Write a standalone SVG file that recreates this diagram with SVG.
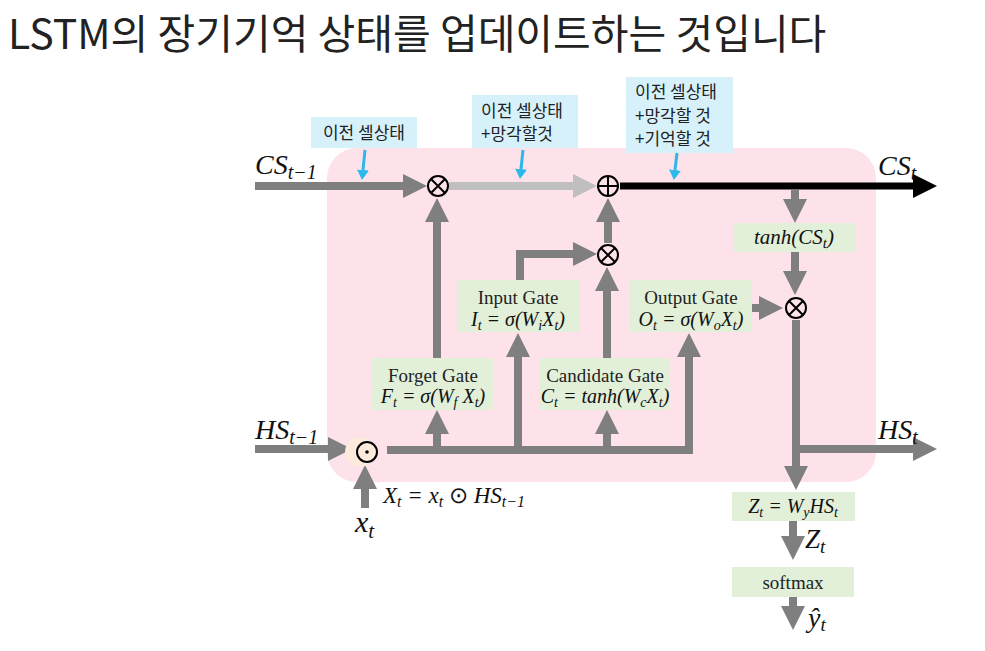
<svg xmlns="http://www.w3.org/2000/svg" width="985" height="651" viewBox="0 0 985 651">
<style>
.kr{font-family:"Noto Sans CJK KR","Noto Sans",sans-serif;fill:#222}
.m{font-family:"Liberation Serif",serif;font-style:italic;fill:#111}
.g{font-family:"Liberation Serif",serif;fill:#222}
.gbox{fill:#e2f0d9}
.bbox{fill:#d7f1fb}
.ln{fill:none;stroke:#7f7f7f;stroke-width:8}
.lt{fill:none;stroke:#bfbfbf;stroke-width:8}
.bk{fill:none;stroke:#000;stroke-width:7}
.cy{fill:none;stroke:#2bb8ea;stroke-width:3}
.op{fill:none;stroke:#000;stroke-width:2}
</style>
<defs>
<marker id="ag" markerUnits="userSpaceOnUse" markerWidth="24" markerHeight="24" viewBox="0 0 24 24" refX="0" refY="12" orient="auto"><path d="M0,0L24,12L0,24z" fill="#7f7f7f"/></marker>
<marker id="al" markerUnits="userSpaceOnUse" markerWidth="24" markerHeight="24" viewBox="0 0 24 24" refX="0" refY="12" orient="auto"><path d="M0,0L24,12L0,24z" fill="#bfbfbf"/></marker>
<marker id="ab" markerUnits="userSpaceOnUse" markerWidth="24" markerHeight="24" viewBox="0 0 24 24" refX="0" refY="12" orient="auto"><path d="M0,0L24,12L0,24z" fill="#000"/></marker>
<marker id="ac" markerUnits="userSpaceOnUse" markerWidth="10" markerHeight="12" viewBox="0 0 10 12" refX="0" refY="6" orient="auto"><path d="M0,0L10,6L0,12z" fill="#2bb8ea"/></marker>
</defs>
<rect width="985" height="651" fill="#fff"/>
<text id="title" class="kr" x="8" y="49" font-size="41">LSTM의 장기기억 상태를 업데이트하는 것입니다</text>

<g id="cell"><rect x="327" y="148" width="549" height="334" rx="30" fill="#fde3e9"/></g>

<g id="callouts">
<g id="c1"><rect class="bbox" x="311" y="117" width="106" height="31"/><text class="kr" x="364" y="139" font-size="17" text-anchor="middle">이전 셀상태</text></g>
<g id="c2"><rect class="bbox" x="472" y="95" width="106" height="53"/><text class="kr" x="481" y="117" font-size="17">이전 셀상태</text><text class="kr" x="481" y="140" font-size="17">+망각할것</text></g>
<g id="c3"><rect class="bbox" x="626" y="77" width="107" height="76"/><text class="kr" x="635" y="98" font-size="17">이전 셀상태</text><text class="kr" x="635" y="122" font-size="17">+망각할 것</text><text class="kr" x="635" y="145" font-size="17">+기억할 것</text></g>
</g>

<g id="connectors">
<path class="ln" d="M255,186H403" marker-end="url(#ag)"/>
<path class="lt" d="M449,186H573" marker-end="url(#al)"/>
<path class="bk" d="M620,186H913" marker-end="url(#ab)"/>
<path class="ln" d="M795,190V199" marker-end="url(#ag)"/>
<path class="ln" d="M795,252V271" marker-end="url(#ag)"/>
<path class="ln" d="M752,308H759" marker-end="url(#ag)"/>
<path class="ln" d="M796,320V466" marker-end="url(#ag)"/>
<path class="ln" d="M796,449H913" marker-end="url(#ag)"/>
<path class="ln" d="M793,521V536" marker-end="url(#ag)"/>
<path class="ln" d="M793,597V606" marker-end="url(#ag)"/>
<path class="ln" d="M437,358V222" marker-end="url(#ag)"/>
<path class="ln" d="M520,280V254H573" marker-end="url(#ag)"/>
<path class="ln" d="M608,243V222" marker-end="url(#ag)"/>
<path class="ln" d="M607,358V291" marker-end="url(#ag)"/>
<path class="ln" d="M255,449H328" marker-end="url(#ag)"/>
<path class="ln" d="M387,450H689V357" marker-end="url(#ag)"/>
<path class="ln" d="M437,450V434" marker-end="url(#ag)"/>
<path class="ln" d="M518,450V357" marker-end="url(#ag)"/>
<path class="ln" d="M607,450V434" marker-end="url(#ag)"/>
<path class="ln" d="M365,508V489" marker-end="url(#ag)"/>
<path class="cy" d="M365,150L363,170" marker-end="url(#ac)"/>
<path class="cy" d="M523,150L521,169" marker-end="url(#ac)"/>
<path class="cy" d="M677,153L675,170" marker-end="url(#ac)"/>
</g>

<g id="ops">
<g id="mul1"><circle cx="438" cy="186" r="10" fill="#fde3e9" class="op"/><path class="op" d="M431,179L445,193M445,179L431,193"/></g>
<g id="add1"><circle cx="608" cy="186" r="10" fill="#fde3e9" class="op"/><path class="op" d="M598,186H618M608,176V196"/></g>
<g id="mul2"><circle cx="608" cy="255" r="10" fill="#fde3e9" class="op"/><path class="op" d="M601,248L615,262M615,248L601,262"/></g>
<g id="mul3"><circle cx="796" cy="308" r="10" fill="#fde3e9" class="op"/><path class="op" d="M789,301L803,315M803,301L789,315"/></g>
<g id="dot1"><circle cx="360" cy="452" r="15" fill="#fcebdc"/><circle cx="367" cy="452" r="10" fill="none" class="op"/><circle cx="367" cy="452" r="1.8" fill="#000"/></g>
</g>

<g id="forget"><rect class="gbox" x="372" y="358" width="121" height="52"/>
<text class="g" x="433" y="382" font-size="19" text-anchor="middle">Forget Gate</text>
<text class="m" x="433" y="403" font-size="20" text-anchor="middle">F<tspan dy="4" font-size="14">t</tspan><tspan dy="-4"> = σ(W</tspan><tspan dy="4" font-size="14">f</tspan><tspan dy="-4"> X</tspan><tspan dy="4" font-size="14">t</tspan><tspan dy="-4">)</tspan></text></g>

<g id="input"><rect class="gbox" x="457" y="280" width="123" height="52"/>
<text class="g" x="518" y="304" font-size="19" text-anchor="middle">Input Gate</text>
<text class="m" x="518" y="326" font-size="20" text-anchor="middle">I<tspan dy="4" font-size="14">t</tspan><tspan dy="-4"> = σ(W</tspan><tspan dy="4" font-size="14">i</tspan><tspan dy="-4">X</tspan><tspan dy="4" font-size="14">t</tspan><tspan dy="-4">)</tspan></text></g>

<g id="candidate"><rect class="gbox" x="539" y="358" width="131" height="52"/>
<text class="g" x="605" y="382" font-size="19" text-anchor="middle">Candidate Gate</text>
<text class="m" x="605" y="403" font-size="20" text-anchor="middle">C<tspan dy="4" font-size="14">t</tspan><tspan dy="-4"> = tanh(W</tspan><tspan dy="4" font-size="14">c</tspan><tspan dy="-4">X</tspan><tspan dy="4" font-size="14">t</tspan><tspan dy="-4">)</tspan></text></g>

<g id="output"><rect class="gbox" x="630" y="280" width="122" height="52"/>
<text class="g" x="691" y="304" font-size="19" text-anchor="middle">Output Gate</text>
<text class="m" x="691" y="326" font-size="20" text-anchor="middle">O<tspan dy="4" font-size="14">t</tspan><tspan dy="-4"> = σ(W</tspan><tspan dy="4" font-size="14">o</tspan><tspan dy="-4">X</tspan><tspan dy="4" font-size="14">t</tspan><tspan dy="-4">)</tspan></text></g>

<g id="tanh"><rect class="gbox" x="733" y="223" width="122" height="29"/>
<text class="m" x="794" y="244" font-size="21" text-anchor="middle">tanh(CS<tspan dy="4" font-size="15">t</tspan><tspan dy="-4">)</tspan></text></g>

<g id="zbox"><rect class="gbox" x="732" y="492" width="123" height="29"/>
<text class="m" x="793" y="513" font-size="20" text-anchor="middle">Z<tspan dy="4" font-size="14">t</tspan><tspan dy="-4"> = W</tspan><tspan dy="4" font-size="14">y</tspan><tspan dy="-4">HS</tspan><tspan dy="4" font-size="14">t</tspan></text></g>

<g id="softmax"><rect class="gbox" x="732" y="567" width="122" height="30"/>
<text class="g" x="793" y="589" font-size="19" text-anchor="middle">softmax</text></g>

<g id="labels">
<text class="m" x="255" y="174" font-size="28">CS<tspan dy="5" font-size="20">t−1</tspan></text>
<text class="m" x="878" y="175" font-size="28">CS<tspan dy="5" font-size="20">t</tspan></text>
<text class="m" x="255" y="439" font-size="28">HS<tspan dy="5" font-size="20">t−1</tspan></text>
<text class="m" x="878" y="439" font-size="28">HS<tspan dy="5" font-size="20">t</tspan></text>
<text class="m" x="355" y="532" font-size="30">x<tspan dy="6" font-size="21">t</tspan></text>
<text class="m" x="383" y="503" font-size="23">X<tspan dy="4" font-size="16">t</tspan><tspan dy="-4"> = x</tspan><tspan dy="4" font-size="16">t</tspan><tspan dy="-4" font-style="normal"> ⊙ </tspan><tspan>HS</tspan><tspan dy="4" font-size="16">t−1</tspan></text>
<text class="m" x="805" y="548" font-size="27">Z<tspan dy="5" font-size="19">t</tspan></text>
<text class="m" x="808" y="627" font-size="28">ŷ<tspan dy="4" font-size="19">t</tspan></text>
</g>
</svg>
